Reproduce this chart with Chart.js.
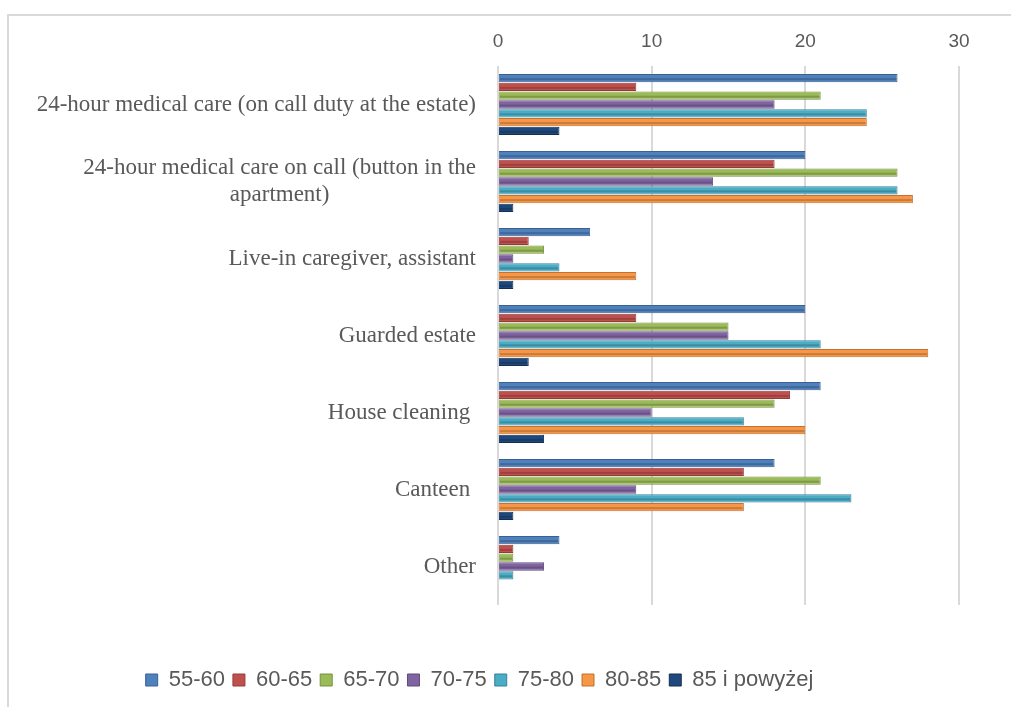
<!DOCTYPE html>
<html>
<head>
<meta charset="utf-8">
<script src="https://cdn.jsdelivr.net/npm/chart.js@4/dist/chart.umd.min.js"></script>
<style>
  html, body { margin: 0; padding: 0; background: #fff; }
  #wrap { position: relative; width: 1011px; height: 707px; overflow: hidden; }
  #frame { position: absolute; left: 7px; top: 14px; width: 1010px; height: 700px;
           border-left: 2px solid #d9d9d9; border-top: 2px solid #d9d9d9; }
  canvas { position: absolute; left: 0; top: 0; }
</style>
</head>
<body>
<div id="wrap">
  <div id="frame"></div>
  <canvas id="myChart" width="1011" height="707"></canvas>
</div>
<script>
var categories = [
	["24-hour medical care (on call duty at the estate)"],
	["24-hour medical care on call (button in the", "apartment)"],
	["Live-in caregiver, assistant"],
	["Guarded estate"],
	["House cleaning "],
	["Canteen "],
	["Other"]
];
var seriesNames = ["55-60", "60-65", "65-70", "70-75", "75-80", "80-85", "85 i powyżej"];
var seriesColors = ["#4f81bd", "#c0504d", "#9bbb59", "#8064a2", "#4bacc6", "#f79646", "#1f497d"];
var seriesBorders = ["#3a6190", "#923c3a", "#74903f", "#5f4a7a", "#358299", "#c27333", "#142f52"];

var v55_60 = [26, 20, 6, 20, 21, 18, 4];
var v60_65 = [9, 18, 2, 9, 19, 16, 1];
var v65_70 = [21, 26, 3, 15, 18, 21, 1];
var v70_75 = [18, 14, 1, 15, 10, 9, 3];
var v75_80 = [24, 26, 4, 21, 16, 23, 1];
var v80_85 = [24, 27, 9, 28, 20, 16, 0];
var v85up = [4, 1, 1, 2, 3, 1, 0];
var seriesValues = [v55_60, v60_65, v65_70, v70_75, v75_80, v80_85, v85up];

var xTicks = [0, 10, 20, 30];

var ctx = document.getElementById("myChart");

// category labels: block right-aligned, lines centred within the block (like the original)
var yLabels = {
	id: "yLabels",
	afterDraw: function(chart){
		var c = chart.ctx, scale = chart.scales.y, lh = 27;
		c.save();
		c.font = '23px "Liberation Serif"';
		c.fillStyle = "#595959";
		c.textAlign = "center";
		c.textBaseline = "middle";
		categories.forEach(function(lines, i){
			var maxW = 0;
			lines.forEach(function(l){ maxW = Math.max(maxW, c.measureText(l).width); });
			var cx = 476 - maxW / 2,
				y0 = scale.getPixelForTick(i) - (lines.length - 1) * lh / 2;
			lines.forEach(function(l, j){ c.fillText(l, cx, y0 + j * lh); });
		});
		c.restore();
	}
};

// darker stripe through each bar to hint at the bevelled look
var barShade = {
	id: "barShade",
	afterDatasetsDraw: function(chart){
		var c = chart.ctx;
		c.save();
		chart.data.datasets.forEach(function(ds, i){
			chart.getDatasetMeta(i).data.forEach(function(bar){
				var w = bar.x - bar.base;
				if (w <= 1) return;
				c.fillStyle = "rgba(0,0,0,0.18)";
				c.fillRect(bar.base + 1, bar.y, w - 2, 2);
			});
		});
		c.restore();
	}
};

var myChart = new Chart(ctx, {
	type: "bar",
	data: {
		labels: categories.map(function(l){ return l.join(" "); }),
		datasets: seriesNames.map(function(name, i){
			return {
				label: name,
				data: seriesValues[i],
				backgroundColor: seriesColors[i],
				borderColor: seriesBorders[i],
				borderWidth: 1,
				categoryPercentage: 0.8,
				barPercentage: 0.94
			};
		})
	},
	options: {
		indexAxis: "y",
		responsive: false,
		animation: false,
		devicePixelRatio: 1,
		layout: { padding: { top: 0, right: 52, bottom: 6, left: 0 } },
		scales: {
			x: {
				position: "top",
				min: 0,
				max: 30,
				afterBuildTicks: function(s){ s.ticks = xTicks.map(function(v){ return { value: v }; }); },
				afterFit: function(s){ s.height = 66; },
				grid: { color: "#d9d9d9", lineWidth: 2, drawTicks: false },
				border: { display: false },
				ticks: { padding: 13, color: "#595959", font: { family: "Liberation Sans", size: 19 } }
			},
			gap: {
				type: "linear",
				position: "bottom",
				display: true,
				grid: { display: false },
				border: { display: false },
				ticks: { display: false },
				afterFit: function(s){ s.height = 56; }
			},
			y: {
				afterFit: function(s){ s.width = 498; },
				grid: { display: false },
				border: { display: false },
				ticks: { display: false }
			}
		},
		plugins: {
			tooltip: { enabled: false },
			legend: {
				position: "bottom",
				labels: {
					boxWidth: 12,
					boxHeight: 12,
					padding: 8,
					color: "#595959",
					font: { family: "Liberation Sans", size: 22 }
				}
			}
		}
	},
	plugins: [yLabels, barShade]
});
</script>
</body>
</html>
